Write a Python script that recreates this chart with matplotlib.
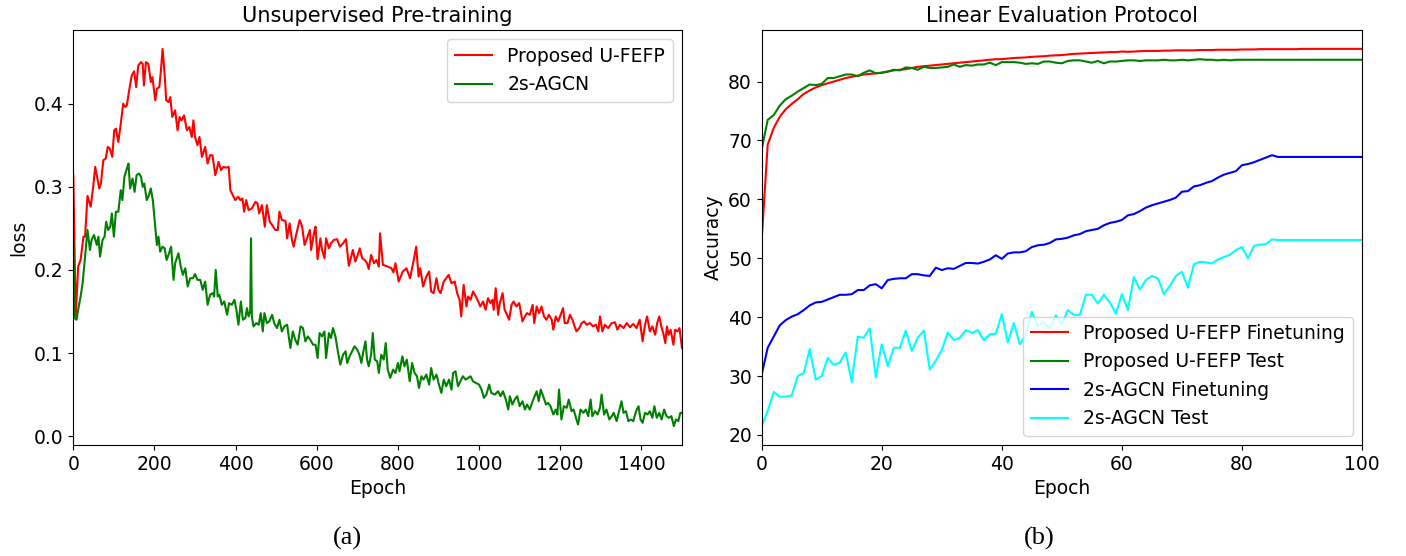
import matplotlib
matplotlib.use('Agg')
import matplotlib.pyplot as plt

# ---------------- data: (a) unsupervised pre-training loss ----------------
ep_ufefp = [0, 6, 12, 18, 25, 29, 35, 43, 49, 54, 64, 68, 74, 80, 85, 90, 96, 101, 105, 111,
            117, 123, 128, 132, 137, 144, 150, 155, 160, 167, 171, 174, 179, 185, 191, 195,
            202, 206, 212, 216, 220, 225, 229, 235, 239, 244, 251, 257, 262, 267, 273, 280,
            286, 292, 296, 300, 306, 311, 317, 325, 331, 337, 343, 350, 358, 364, 370, 376,
            383, 387, 393, 399, 406, 412, 417, 421, 426, 432, 440, 449, 454, 458, 465, 472,
            477, 484, 490, 498, 504, 508, 514, 523, 527, 533, 539, 543, 550, 558, 564, 570,
            576, 583, 586, 593, 597, 602, 609, 613, 619, 623, 630, 635, 642, 650, 657, 665,
            672, 679, 685, 689, 695, 701, 706, 712, 718, 724, 728, 734, 741, 747, 753, 756,
            763, 775, 784, 789, 794, 802, 812, 821, 830, 839, 845, 851, 855, 862, 870, 877,
            882, 888, 895, 900, 905, 913, 919, 925, 932, 940, 946, 952, 956, 962, 969, 973,
            979, 985, 992, 998, 1003, 1010, 1016, 1022, 1028, 1033, 1036, 1041, 1047, 1051,
            1058, 1063, 1069, 1074, 1080, 1085, 1092, 1099, 1107, 1113, 1118, 1125, 1132,
            1136, 1142, 1148, 1154, 1160, 1166, 1172, 1179, 1183, 1189, 1195, 1201, 1207,
            1211, 1218, 1224, 1230, 1234, 1240, 1247, 1253, 1259, 1265, 1273, 1281, 1288,
            1294, 1298, 1304, 1310, 1318, 1327, 1335, 1341, 1347, 1356, 1364, 1372, 1380,
            1388, 1396, 1403, 1409, 1414, 1421, 1427, 1434, 1439, 1444, 1450, 1454, 1459,
            1463, 1467, 1472, 1479, 1483, 1489, 1494, 1500]
loss_ufefp = [0.314, 0.144, 0.204, 0.212, 0.240, 0.240, 0.289, 0.276, 0.300, 0.324, 0.298, 0.304,
              0.332, 0.334, 0.348, 0.346, 0.336, 0.368, 0.370, 0.354, 0.376, 0.400, 0.396, 0.398,
              0.414, 0.434, 0.439, 0.420, 0.446, 0.450, 0.448, 0.422, 0.450, 0.448, 0.426, 0.432,
              0.404, 0.418, 0.420, 0.440, 0.466, 0.436, 0.404, 0.402, 0.408, 0.384, 0.392, 0.368,
              0.384, 0.380, 0.386, 0.368, 0.372, 0.360, 0.380, 0.360, 0.350, 0.360, 0.336, 0.348,
              0.328, 0.338, 0.338, 0.314, 0.330, 0.320, 0.324, 0.323, 0.324, 0.296, 0.290, 0.284,
              0.288, 0.284, 0.286, 0.270, 0.284, 0.272, 0.274, 0.282, 0.280, 0.268, 0.278, 0.252,
              0.278, 0.258, 0.254, 0.248, 0.248, 0.270, 0.260, 0.259, 0.238, 0.256, 0.236, 0.228,
              0.244, 0.260, 0.252, 0.230, 0.238, 0.248, 0.224, 0.244, 0.252, 0.213, 0.238, 0.224,
              0.214, 0.238, 0.226, 0.232, 0.236, 0.237, 0.228, 0.232, 0.237, 0.205, 0.216, 0.224,
              0.210, 0.218, 0.226, 0.214, 0.212, 0.208, 0.201, 0.218, 0.208, 0.212, 0.204, 0.244,
              0.206, 0.204, 0.202, 0.197, 0.208, 0.186, 0.198, 0.202, 0.190, 0.212, 0.228, 0.192,
              0.202, 0.180, 0.192, 0.198, 0.174, 0.172, 0.190, 0.176, 0.172, 0.186, 0.190, 0.194,
              0.184, 0.186, 0.172, 0.164, 0.144, 0.182, 0.156, 0.168, 0.164, 0.174, 0.168, 0.162,
              0.156, 0.162, 0.152, 0.166, 0.160, 0.164, 0.152, 0.178, 0.146, 0.160, 0.172, 0.152,
              0.146, 0.140, 0.158, 0.162, 0.156, 0.160, 0.138, 0.144, 0.148, 0.146, 0.158, 0.136,
              0.156, 0.148, 0.156, 0.144, 0.140, 0.146, 0.140, 0.128, 0.144, 0.138, 0.146, 0.154,
              0.136, 0.136, 0.146, 0.140, 0.134, 0.126, 0.130, 0.136, 0.138, 0.134, 0.136, 0.132,
              0.134, 0.126, 0.144, 0.126, 0.134, 0.130, 0.136, 0.137, 0.128, 0.134, 0.130, 0.136,
              0.131, 0.135, 0.130, 0.140, 0.114, 0.134, 0.144, 0.126, 0.132, 0.122, 0.136, 0.144,
              0.130, 0.124, 0.112, 0.132, 0.122, 0.128, 0.110, 0.128, 0.126, 0.130, 0.106]

ep_agcn = [0, 3, 8, 12, 18, 23, 29, 35, 41, 45, 51, 58, 62, 66, 72, 77, 81, 86, 91, 95, 100,
           105, 111, 117, 121, 126, 132, 136, 140, 146, 151, 156, 162, 167, 171, 175, 181, 185,
           191, 196, 202, 206, 210, 214, 220, 225, 230, 236, 241, 247, 251, 259, 265, 270, 276,
           282, 288, 295, 300, 306, 313, 319, 325, 331, 337, 343, 347, 351, 356, 360, 366, 372,
           379, 384, 391, 397, 402, 407, 413, 418, 424, 428, 432, 436, 438, 440, 444, 451, 457,
           462, 467, 471, 477, 483, 490, 495, 502, 508, 514, 520, 527, 535, 541, 547, 553, 560,
           566, 572, 578, 584, 591, 597, 602, 607, 613, 619, 623, 630, 635, 640, 646, 652, 658,
           665, 671, 675, 681, 687, 693, 700, 705, 710, 714, 720, 724, 728, 734, 738, 743, 749,
           753, 759, 765, 770, 775, 781, 788, 794, 800, 804, 811, 816, 822, 829, 835, 841, 847,
           852, 858, 863, 870, 877, 882, 888, 895, 900, 907, 913, 919, 926, 932, 936, 942, 948,
           954, 960, 967, 973, 979, 985, 992, 1000, 1006, 1012, 1018, 1025, 1030, 1039, 1047,
           1053, 1059, 1066, 1072, 1076, 1082, 1088, 1094, 1100, 1107, 1113, 1118, 1125, 1132,
           1137, 1142, 1147, 1152, 1158, 1165, 1170, 1176, 1183, 1189, 1193, 1197, 1203, 1209,
           1216, 1221, 1228, 1233, 1240, 1244, 1250, 1257, 1263, 1269, 1275, 1279, 1286, 1292,
           1298, 1302, 1308, 1314, 1321, 1327, 1332, 1339, 1346, 1351, 1356, 1362, 1368, 1374,
           1380, 1387, 1393, 1398, 1403, 1409, 1415, 1421, 1427, 1432, 1438, 1444, 1450, 1456,
           1462, 1468, 1474, 1480, 1485, 1491, 1496, 1500]
loss_agcn = [0.236, 0.142, 0.140, 0.152, 0.168, 0.184, 0.216, 0.248, 0.224, 0.236, 0.242, 0.230,
             0.240, 0.216, 0.236, 0.240, 0.258, 0.248, 0.252, 0.268, 0.240, 0.270, 0.270, 0.296,
             0.284, 0.312, 0.322, 0.328, 0.298, 0.310, 0.294, 0.314, 0.316, 0.312, 0.300, 0.304,
             0.284, 0.288, 0.298, 0.284, 0.252, 0.230, 0.240, 0.222, 0.228, 0.226, 0.212, 0.220,
             0.228, 0.188, 0.208, 0.220, 0.204, 0.194, 0.202, 0.180, 0.190, 0.190, 0.195, 0.188,
             0.188, 0.176, 0.186, 0.158, 0.170, 0.172, 0.168, 0.200, 0.168, 0.170, 0.158, 0.162,
             0.146, 0.160, 0.158, 0.164, 0.152, 0.134, 0.162, 0.140, 0.142, 0.154, 0.144, 0.150,
             0.238, 0.144, 0.132, 0.136, 0.134, 0.148, 0.126, 0.148, 0.136, 0.138, 0.146, 0.136,
             0.130, 0.140, 0.126, 0.132, 0.134, 0.106, 0.126, 0.116, 0.110, 0.132, 0.130, 0.114,
             0.120, 0.116, 0.110, 0.110, 0.094, 0.124, 0.120, 0.126, 0.094, 0.124, 0.118, 0.130,
             0.120, 0.102, 0.086, 0.098, 0.102, 0.088, 0.096, 0.102, 0.108, 0.104, 0.098, 0.088,
             0.100, 0.114, 0.092, 0.084, 0.098, 0.124, 0.092, 0.090, 0.076, 0.098, 0.092, 0.112,
             0.080, 0.070, 0.080, 0.076, 0.088, 0.078, 0.096, 0.084, 0.092, 0.066, 0.088, 0.076,
             0.072, 0.058, 0.072, 0.068, 0.074, 0.062, 0.082, 0.068, 0.074, 0.064, 0.052, 0.068,
             0.060, 0.068, 0.056, 0.076, 0.078, 0.060, 0.066, 0.072, 0.068, 0.070, 0.072, 0.066,
             0.064, 0.062, 0.056, 0.046, 0.050, 0.062, 0.052, 0.050, 0.054, 0.048, 0.054, 0.044,
             0.032, 0.048, 0.038, 0.044, 0.048, 0.036, 0.042, 0.032, 0.038, 0.032, 0.042, 0.048,
             0.054, 0.042, 0.056, 0.048, 0.038, 0.040, 0.036, 0.026, 0.032, 0.026, 0.056, 0.020,
             0.036, 0.034, 0.044, 0.030, 0.032, 0.020, 0.014, 0.032, 0.028, 0.032, 0.024, 0.044,
             0.024, 0.030, 0.026, 0.034, 0.050, 0.026, 0.032, 0.020, 0.024, 0.028, 0.018, 0.032,
             0.042, 0.028, 0.030, 0.018, 0.020, 0.018, 0.030, 0.036, 0.020, 0.016, 0.028, 0.026,
             0.030, 0.022, 0.036, 0.022, 0.028, 0.020, 0.032, 0.024, 0.022, 0.024, 0.012, 0.020,
             0.018, 0.028, 0.028]

# ---------------- data: (b) linear evaluation accuracy ----------------
epochs_b = list(range(101))
acc_ufefp_ft = [53.2, 69.3, 72.1, 74.0, 75.3, 76.2, 77.0, 77.9, 78.5, 79.0,
                79.4, 79.7, 80.0, 80.3, 80.6, 80.8, 81.0, 81.2, 81.3, 81.4,
                81.5, 81.7, 81.9, 82.0, 82.1, 82.3, 82.5, 82.6, 82.7, 82.8,
                82.9, 83.0, 83.1, 83.2, 83.3, 83.4, 83.5, 83.6, 83.7, 83.8,
                83.8, 83.9, 84.0, 84.05, 84.1, 84.2, 84.25, 84.3, 84.4, 84.45,
                84.5, 84.6, 84.7, 84.75, 84.8, 84.85, 84.9, 84.95, 85.0, 85.0,
                85.1, 85.05, 85.1, 85.15, 85.2, 85.2, 85.2, 85.25, 85.25, 85.3,
                85.3, 85.3, 85.3, 85.35, 85.35, 85.35, 85.4, 85.4, 85.4, 85.4,
                85.45, 85.45, 85.45, 85.5, 85.5, 85.5, 85.5, 85.5, 85.5, 85.5,
                85.55, 85.55, 85.55, 85.55, 85.55, 85.55, 85.55, 85.55, 85.55, 85.55,
                85.55]
acc_ufefp_test = [68.5, 73.5, 74.3, 75.9, 77.0, 77.6, 78.3, 78.9, 79.5, 79.4,
                  79.6, 80.6, 80.6, 80.9, 81.2, 81.2, 80.9, 81.5, 81.9, 81.4,
                  81.5, 81.7, 82.0, 81.9, 82.4, 82.3, 82.0, 82.5, 82.3, 82.3,
                  82.4, 82.5, 82.9, 82.5, 82.8, 82.7, 82.9, 82.9, 83.2, 82.8,
                  83.3, 83.3, 83.3, 83.2, 83.0, 83.1, 83.0, 83.4, 83.4, 83.2,
                  83.1, 83.5, 83.6, 83.6, 83.4, 83.2, 83.5, 83.1, 83.4, 83.4,
                  83.5, 83.6, 83.6, 83.5, 83.6, 83.6, 83.6, 83.7, 83.6, 83.6,
                  83.7, 83.6, 83.7, 83.8, 83.7, 83.7, 83.6, 83.7, 83.6, 83.7,
                  83.7, 83.7, 83.7, 83.7, 83.7, 83.7, 83.7, 83.7, 83.7, 83.7,
                  83.7, 83.7, 83.7, 83.7, 83.7, 83.7, 83.7, 83.7, 83.7, 83.7,
                  83.7]
acc_agcn_ft = [30.3, 34.8, 36.7, 38.6, 39.5, 40.1, 40.5, 41.2, 42.0, 42.5,
               42.6, 43.0, 43.4, 43.8, 43.8, 43.9, 44.6, 44.6, 45.4, 45.6,
               44.9, 46.3, 46.5, 46.6, 46.6, 47.3, 47.3, 47.1, 47.0, 48.4,
               48.0, 48.3, 48.2, 48.7, 49.2, 49.2, 49.1, 49.4, 49.8, 50.5,
               49.9, 50.8, 51.0, 51.0, 51.2, 51.9, 52.2, 52.3, 52.6, 53.2,
               53.3, 53.5, 53.9, 54.1, 54.6, 54.8, 55.0, 55.6, 56.0, 56.2,
               56.5, 57.3, 57.5, 58.0, 58.6, 59.0, 59.3, 59.6, 59.9, 60.3,
               61.3, 61.4, 62.2, 62.4, 62.8, 63.1, 63.7, 64.2, 64.5, 64.8,
               65.8, 66.0, 66.3, 66.7, 67.1, 67.5, 67.2, 67.2, 67.2, 67.2,
               67.2, 67.2, 67.2, 67.2, 67.2, 67.2, 67.2, 67.2, 67.2, 67.2,
               67.2]
acc_agcn_test = [21.5, 24.1, 27.3, 26.5, 26.5, 26.7, 30.0, 30.5, 34.6, 29.4,
                 30.0, 33.1, 31.9, 32.3, 34.0, 29.0, 36.7, 36.5, 38.1, 29.8,
                 35.4, 31.7, 34.8, 34.8, 37.7, 34.3, 36.5, 37.7, 31.1, 32.6,
                 34.4, 37.4, 36.1, 36.5, 37.8, 37.3, 37.8, 36.1, 37.1, 37.2,
                 40.5, 35.7, 39.0, 35.4, 37.0, 40.9, 38.5, 39.1, 38.0, 40.3,
                 38.8, 41.2, 40.4, 40.4, 43.8, 43.8, 42.3, 43.8, 42.5, 40.6,
                 43.9, 41.2, 46.8, 44.7, 46.3, 47.0, 46.6, 43.9, 45.3, 47.0,
                 47.7, 45.0, 49.0, 49.4, 49.3, 49.1, 49.8, 50.2, 50.6, 51.4,
                 51.9, 50.0, 52.1, 52.3, 52.4, 53.2, 53.1, 53.1, 53.1, 53.1,
                 53.1, 53.1, 53.1, 53.1, 53.1, 53.1, 53.1, 53.1, 53.1, 53.1,
                 53.1]

plt.rcParams['font.family'] = ['DejaVu Sans']
plt.rcParams['font.size'] = 13.5

fig = plt.figure(figsize=(14.06, 5.56), dpi=100)
ax1 = fig.add_axes([0.05213, 0.19964, 0.4329, 0.7464])
ax2 = fig.add_axes([0.54175, 0.19964, 0.42696, 0.7464])

ax1.plot(ep_ufefp, loss_ufefp, color='red', lw=1.5, label='Proposed U-FEFP')
ax1.plot(ep_agcn, loss_agcn, color='green', lw=1.5, label='2s-AGCN')
ax1.set_xlim(0, 1500)
ax1.set_title('Unsupervised Pre-training', fontsize=15)
ax1.set_xlabel('Epoch')
ax1.set_ylabel('loss')
ax1.legend(loc='upper right')

ax2.plot(epochs_b, acc_ufefp_ft, color='red', lw=1.5, label='Proposed U-FEFP Finetuning')
ax2.plot(epochs_b, acc_ufefp_test, color='green', lw=1.5, label='Proposed U-FEFP Test')
ax2.plot(epochs_b, acc_agcn_ft, color='blue', lw=1.5, label='2s-AGCN Finetuning')
ax2.plot(epochs_b, acc_agcn_test, color='cyan', lw=1.5, label='2s-AGCN Test')
ax2.set_xlim(0, 100)
ax2.set_title('Linear Evaluation Protocol', fontsize=15)
ax2.set_xlabel('Epoch')
ax2.set_ylabel('Accuracy')
ax2.legend(loc='lower right')

fig.text(347 / 1406, 1 - 538 / 556, '(a)', family='Liberation Serif', fontsize=19,
         ha='center', va='center')
fig.text(1039 / 1406, 1 - 538 / 556, '(b)', family='Liberation Serif', fontsize=19,
         ha='center', va='center')

fig.savefig('out.png', dpi=100)
